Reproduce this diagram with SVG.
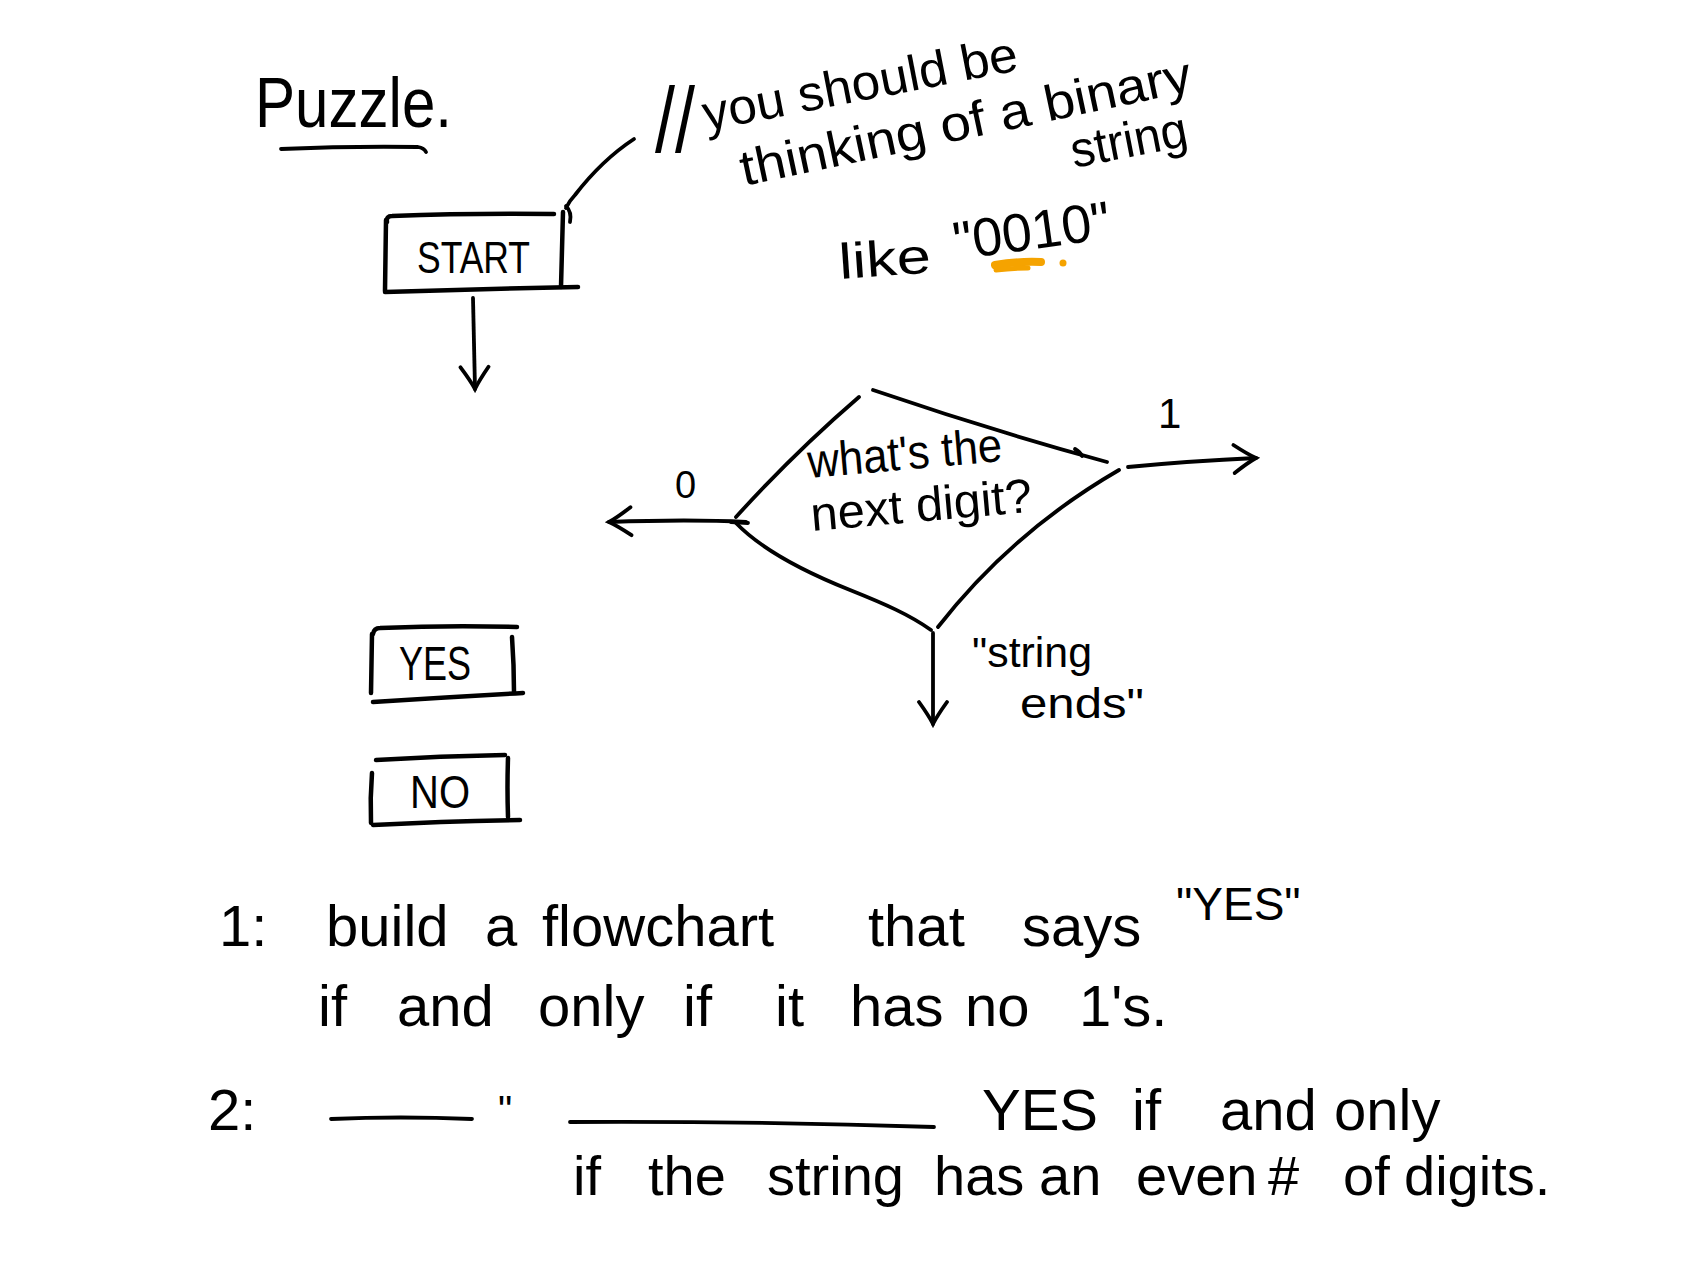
<svg xmlns="http://www.w3.org/2000/svg" width="1700" height="1262" viewBox="0 0 1700 1262">
<style>
.ink{fill:none;stroke:#000;stroke-width:3.8;stroke-linecap:round;stroke-linejoin:round}
.box{fill:none;stroke:#000;stroke-width:4.5;stroke-linecap:round;stroke-linejoin:round}
.hand{font-family:"Liberation Sans",Arial,sans-serif;fill:#000}
.hl{fill:none;stroke:#F5A300;stroke-linecap:round}
</style>
<defs>
<marker id="arr" viewBox="-30 -18 34 36" refX="0" refY="0" markerWidth="34" markerHeight="36" markerUnits="userSpaceOnUse" orient="auto">
<path d="M-22,-14 Q-8,-4 0,0 Q-8,4 -22,14" fill="none" stroke="#000" stroke-width="3.8" stroke-linecap="round"/>
</marker>
</defs>
<rect width="1700" height="1262" fill="#fff"/>

<g id="title">
<text class="hand" x="255" y="127" font-size="70" textLength="197" lengthAdjust="spacingAndGlyphs">Puzzle.</text>
<path class="ink" d="M281,149 Q350,146 418,147 Q424,148 426,152"/>
</g>

<g id="note">
<text class="hand" x="655" y="152" font-size="92" textLength="40" lengthAdjust="spacingAndGlyphs">//</text>
<text class="hand" x="706" y="131" font-size="50" transform="rotate(-11 706 131)" textLength="320" lengthAdjust="spacingAndGlyphs">you should be</text>
<text class="hand" x="744" y="186" font-size="50" transform="rotate(-12 744 186)" textLength="460" lengthAdjust="spacingAndGlyphs">thinking of a binary</text>
<text class="hand" x="1074" y="168" font-size="50" transform="rotate(-11 1074 168)" textLength="118" lengthAdjust="spacingAndGlyphs">string</text>
<text class="hand" x="840" y="279" font-size="50" transform="rotate(-4 840 279)" textLength="92" lengthAdjust="spacingAndGlyphs">like</text>
<text class="hand" x="956" y="260" font-size="54" transform="rotate(-8 956 260)" textLength="158" lengthAdjust="spacingAndGlyphs">"0010"</text>
<path class="hl" stroke-width="8" d="M995,265 Q1018,261 1041,262"/>
<path class="hl" stroke-width="5" d="M996,270 Q1012,268 1028,268"/>
<circle cx="1063" cy="263" r="3.5" fill="#F5A300"/>
</g>

<g id="start">
<path class="box" d="M387,222 Q386,216 392,216 Q470,213 554,214"/>
<path class="box" d="M386,220 L385,291"/>
<path class="box" d="M385,292 Q480,289 578,287"/>
<path class="box" d="M563,212 L561,287"/>
<text class="hand" x="417" y="273" font-size="44" textLength="113" lengthAdjust="spacingAndGlyphs">START</text>
</g>

<g id="decision">
<path class="ink" d="M873,390 Q990,430 1107,462"/>
<path class="ink" d="M1075,449 Q1080,452 1082,456"/>
<path class="ink" d="M859,397 Q795,452 736,517"/>
<path class="ink" d="M736,523 C760,548 800,570 850,590 C885,604 910,615 931,630"/>
<path class="ink" d="M1119,470 Q1012,532 938,627"/>
<path class="ink" d="M731,522 L748,523"/>
<text class="hand" x="809" y="478" font-size="48" transform="rotate(-5 809 478)" textLength="195" lengthAdjust="spacingAndGlyphs">what's the</text>
<text class="hand" x="812" y="531" font-size="48" transform="rotate(-5 812 531)" textLength="222" lengthAdjust="spacingAndGlyphs">next digit?</text>
</g>

<g id="yes">
<path class="box" d="M373,634 Q374,628 380,628 Q450,625 517,627"/>
<path class="box" d="M372,634 L371,693"/>
<path class="box" d="M373,702 Q450,697 523,693"/>
<path class="box" d="M512,637 Q514,665 514,692"/>
<text class="hand" x="399" y="680" font-size="48" textLength="72" lengthAdjust="spacingAndGlyphs">YES</text>
</g>

<g id="no">
<path class="box" d="M376,760 Q440,756 505,755"/>
<path class="box" d="M372,773 Q370,798 371,823"/>
<path class="box" d="M373,825 Q445,821 520,820"/>
<path class="box" d="M508,758 Q507,788 508,817"/>
<text class="hand" x="410" y="808" font-size="46" textLength="60" lengthAdjust="spacingAndGlyphs">NO</text>
</g>

<g id="connectors">
<path class="ink" d="M566,208 Q570,200 575,195 Q602,160 634,139"/>
<path class="ink" d="M566,206 Q572,212 570,222"/>
<path class="ink" d="M473,298 L475,389" marker-end="url(#arr)"/>
<path class="ink" d="M746,522 Q690,519 609,522" marker-end="url(#arr)"/>
<path class="ink" d="M1128,467 Q1190,461 1256,458" marker-end="url(#arr)"/>
<path class="ink" d="M933,633 L933,724" marker-end="url(#arr)"/>
<text class="hand" x="675" y="498" font-size="38">0</text>
<text class="hand" x="1158" y="428" font-size="42">1</text>
<text class="hand" x="972" y="667" font-size="42" textLength="120" lengthAdjust="spacingAndGlyphs">"string</text>
<text class="hand" x="1020" y="718" font-size="42" textLength="124" lengthAdjust="spacingAndGlyphs">ends"</text>
</g>

<g id="tasks">
<text class="hand" y="946" font-size="58"><tspan x="219">1:</tspan><tspan x="326">build</tspan><tspan x="485">a</tspan><tspan x="542">flowchart</tspan><tspan x="868">that</tspan><tspan x="1022">says</tspan><tspan x="1176" y="920" font-size="46">"YES"</tspan></text>
<text class="hand" y="1026" font-size="58"><tspan x="318">if</tspan><tspan x="397">and</tspan><tspan x="538">only</tspan><tspan x="683">if</tspan><tspan x="775">it</tspan><tspan x="850">has</tspan><tspan x="965">no</tspan><tspan x="1079">1's.</tspan></text>
<text class="hand" y="1130" font-size="58"><tspan x="208">2:</tspan><tspan x="498" y="1124" font-size="40">"</tspan><tspan x="982" y="1130">YES</tspan><tspan x="1132">if</tspan><tspan x="1220">and</tspan><tspan x="1334">only</tspan></text>
<path class="ink" d="M331,1119 Q400,1116 472,1119"/>
<path class="ink" stroke-width="5" d="M570,1122 Q750,1121 934,1127"/>
<text class="hand" y="1195" font-size="56"><tspan x="573">if</tspan><tspan x="648">the</tspan><tspan x="767">string</tspan><tspan x="934">has</tspan><tspan x="1039">an</tspan><tspan x="1136">even</tspan><tspan x="1268">#</tspan><tspan x="1343">of</tspan><tspan x="1404">digits.</tspan></text>
</g>
</svg>
